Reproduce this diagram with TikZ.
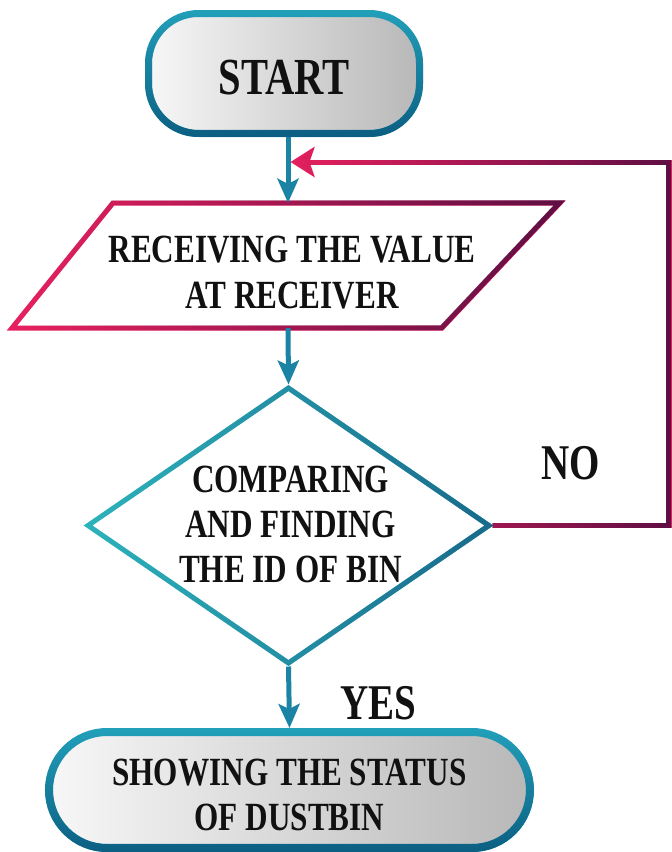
\documentclass[tikz,border=0pt]{standalone}
\usepackage{fontspec}
\setmainfont{Liberation Serif}[FakeStretch=0.78]
\usetikzlibrary{arrows.meta,shapes.geometric,fadings}
\tikzfading[name=fadeR, left color=transparent!100, right color=transparent!0]
\tikzfading[name=fadeD, top color=transparent!100, bottom color=transparent!0]
\definecolor{tealA}{HTML}{22A0BA}
\definecolor{tealB}{HTML}{0C5F82}
\definecolor{tealArrow}{HTML}{1B84A5}
\definecolor{teallight}{HTML}{2DB3BC}
\definecolor{tealdark}{HTML}{1A6A8C}
\definecolor{pinkA}{HTML}{E8215F}
\definecolor{purpB}{HTML}{5E0F44}
\definecolor{grayL}{HTML}{F7F7F7}
\definecolor{grayR}{HTML}{B8B8B8}
\definecolor{ink}{HTML}{111111}
\newcommand{\mvtxt}[2]{\raisebox{-#1}[\height][\depth]{\begin{tabular}{@{}c@{}}#2\end{tabular}}}
\begin{document}
\begin{tikzpicture}[x=1pt,y=-1pt,
  txt/.style={font=\bfseries\fontsize{40}{45}\selectfont, align=center, text=ink},
  lbl/.style={font=\bfseries\fontsize{50}{54}\selectfont, text=ink},
  terminal/.style={draw=tealA, line width=#1, left color=grayL, right color=grayR,
    postaction={draw=tealB, line width=#1, path fading=fadeD}},
  flow/.style={draw=tealArrow, line width=5pt, -{Stealth[length=24pt,width=21pt,inset=5pt]}},
  fbtip/.style={-{Stealth[length=24pt,width=30pt,inset=5pt]}},
  fbline/.style={draw=pinkA, line width=5pt, line join=miter, fbtip,
    postaction={draw=purpB, line width=5pt, line join=miter, fbtip, path fading=fadeR}},
  ioshape/.style={draw=pinkA, line width=5pt, line join=miter,
    postaction={draw=purpB, line width=5pt, line join=miter, path fading=fadeR}},
  decision/.style={diamond, draw=teallight, line width=5pt, aspect=1.45, inner sep=-25pt,
    postaction={draw=tealdark, line width=5pt, path fading=fadeR}}
]
\useasboundingbox (0,0) rectangle (672,852);

% START
\node[terminal=7pt, rounded corners=50pt, minimum width=271pt, minimum height=120pt,
      font=\bfseries\fontsize{52}{56}\selectfont, text=ink] (start) at (284,73.5)
  {\raisebox{-4pt}[\height][\depth]{START}};

% input / output
\draw[ioshape] (113,203) -- (560,203) -- (442,328) -- (12,328) -- cycle;
\node[txt, font=\bfseries\fontsize{40}{46}\selectfont, minimum height=125pt, minimum width=380pt, inner sep=0pt]
  (recv) at (288,265.5)
  {\hspace*{8pt}\mvtxt{11pt}{RECEIVING THE VALUE\\AT RECEIVER}};

% decision
\node[decision, txt, minimum width=403pt, minimum height=277pt] (dec) at (288.5,525.5)
  {\hspace*{4pt}\mvtxt{3pt}{COMPARING\\AND FINDING\\THE ID OF BIN}};

% end
\node[terminal=8pt, rounded corners=58pt, minimum width=481pt, minimum height=116pt, txt]
  (show) at (289.5,790) {\mvtxt{9pt}{SHOWING THE STATUS\\OF DUSTBIN}};

% connectors
\draw[flow] (start.south -| recv.north) -- (recv.north);
\draw[flow] (recv.south) -- (dec.north);
\draw[flow] (dec.south) -- (show.north);

\coordinate (fbtop) at (669,162);
\coordinate (join) at (290.5,162);
\draw[fbline] (dec.east) -| (fbtop) -- (join);

% labels
\node[lbl] (no) at (571,463) {NO};
\node[lbl] (yes) at (378,703) {YES};
\end{tikzpicture}
\end{document}
